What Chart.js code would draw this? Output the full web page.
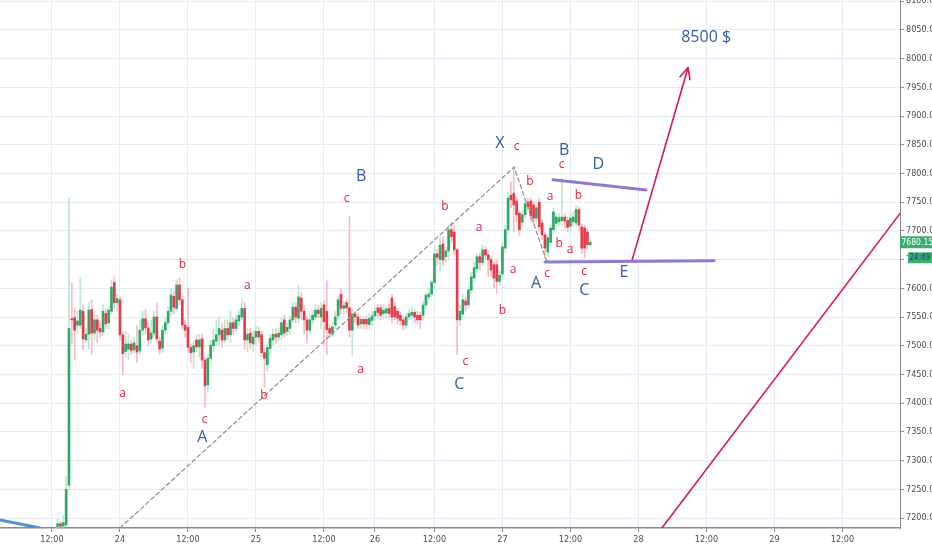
<!DOCTYPE html>
<html><head><meta charset="utf-8">
<script src="https://cdn.jsdelivr.net/npm/chart.js@4.4.0/dist/chart.umd.min.js"></script>
<style>html,body{margin:0;padding:0;background:#fff;overflow:hidden}#wrap{width:932px;height:550px;position:relative}</style>
</head><body><div id="wrap"><canvas id="c"></canvas></div>
<script>
// ---- data (30-min candles, index = bar number) ----
const candleStart = 20;
const opens = [7185,7190,7186,7188,7257,7547,7549,7536,7536,7560,7510,7520,7563,7522,7545,7530,7524,7556,7540,7560,
7610,7575,7580,7519,7490,7494,7503,7493,7500,7491,7527,7547,7531,7512,7522,7550,7508,7496,7527,7540,
7560,7586,7565,7606,7580,7536,7532,7497,7489,7510,7498,7512,7475,7432,7478,7500,7508,7519,7527,7510,
7530,7519,7540,7530,7543,7550,7565,7510,7522,7503,7515,7525,7519,7488,7467,7495,7510,7520,7515,7519,
7545,7525,7530,7545,7567,7548,7583,7560,7545,7527,7545,7550,7562,7550,7571,7560,7530,7520,7536,7552,
7590,7565,7575,7566,7527,7555,7550,7538,7546,7546,7537,7544,7552,7566,7566,7556,7557,7565,7583,7568,
7560,7553,7545,7536,7550,7553,7558,7553,7553,7553,7571,7585,7590,7610,7660,7650,7677,7655,7665,7702,
7698,7667,7545,7555,7578,7571,7597,7618,7634,7655,7645,7667,7658,7650,7641,7641,7612,7625,7670,7702,
7762,7765,7752,7731,7715,7728,7750,7752,7745,7722,7750,7714,7693,7663,7680,7702,7713,7716,7718,7724,
7718,7708,7716,7714,7737,7707,7705,7698,7676];
const highs = [7200,7194,7205,7272,7757,7610,7566,7560,7619,7571,7530,7575,7580,7560,7553,7540,7571,7565,7570,7615,
7620,7590,7585,7524,7525,7520,7510,7515,7535,7545,7560,7563,7540,7545,7560,7575,7515,7535,7548,7568,
7600,7595,7615,7618,7585,7545,7600,7503,7508,7518,7520,7520,7480,7485,7510,7530,7545,7550,7540,7545,
7545,7560,7548,7555,7562,7583,7576,7530,7530,7525,7535,7532,7525,7495,7505,7520,7530,7530,7530,7548,
7553,7540,7552,7575,7575,7605,7592,7570,7550,7555,7560,7572,7570,7575,7578,7613,7538,7540,7560,7585,
7600,7578,7580,7725,7565,7560,7556,7552,7550,7552,7556,7560,7568,7572,7572,7572,7570,7572,7590,7575,
7565,7558,7550,7556,7563,7566,7563,7560,7558,7578,7592,7600,7615,7670,7668,7690,7690,7672,7710,7715,
7710,7670,7570,7590,7585,7602,7628,7645,7660,7662,7675,7672,7666,7655,7645,7648,7630,7680,7710,7768,
7785,7808,7760,7735,7735,7755,7757,7757,7752,7747,7756,7720,7698,7693,7710,7740,7730,7730,7792,7730,
7724,7730,7734,7745,7742,7712,7710,7703,7684];
const lows = [7183,7184,7184,7185,7250,7503,7475,7520,7530,7493,7505,7495,7485,7510,7505,7515,7518,7530,7530,7555,
7565,7560,7510,7449,7480,7475,7485,7488,7470,7485,7520,7520,7500,7505,7515,7506,7485,7488,7520,7535,
7552,7555,7560,7572,7530,7515,7490,7470,7460,7490,7480,7460,7393,7420,7470,7490,7500,7500,7498,7505,
7510,7505,7520,7525,7535,7545,7495,7490,7495,7490,7500,7505,7480,7428,7455,7485,7500,7505,7508,7510,
7515,7518,7520,7540,7540,7540,7545,7520,7505,7520,7538,7545,7548,7530,7500,7485,7515,7515,7530,7545,
7555,7555,7556,7515,7484,7540,7530,7530,7530,7528,7530,7535,7545,7550,7545,7548,7548,7548,7540,7545,
7538,7536,7527,7530,7545,7547,7540,7538,7530,7545,7565,7580,7585,7600,7640,7630,7640,7645,7650,7680,
7658,7485,7535,7550,7560,7565,7590,7612,7628,7632,7640,7650,7620,7620,7600,7592,7605,7615,7664,7695,
7740,7698,7715,7692,7708,7722,7735,7718,7712,7715,7700,7685,7653,7655,7675,7695,7705,7708,7710,7705,
7698,7700,7708,7708,7700,7660,7653,7668,7672];
const closes = [7190,7186,7192,7250,7530,7545,7527,7543,7562,7512,7520,7562,7522,7545,7527,7524,7560,7538,7562,7602,
7575,7582,7519,7486,7503,7503,7492,7505,7489,7527,7547,7531,7510,7522,7550,7512,7494,7527,7540,7560,
7588,7567,7606,7580,7536,7527,7497,7488,7500,7498,7510,7475,7430,7478,7501,7510,7519,7530,7510,7530,
7519,7540,7530,7545,7553,7565,7510,7520,7505,7515,7525,7515,7488,7478,7497,7513,7520,7515,7522,7540,
7522,7532,7545,7567,7550,7585,7560,7545,7527,7545,7553,7562,7556,7565,7542,7528,7522,7533,7550,7580,
7565,7570,7566,7527,7555,7550,7536,7546,7538,7538,7548,7552,7560,7558,7553,7562,7564,7556,7550,7550,
7548,7544,7536,7550,7556,7558,7550,7545,7545,7571,7588,7590,7610,7660,7654,7675,7649,7665,7702,7690,
7667,7545,7560,7580,7571,7597,7620,7636,7655,7645,7667,7658,7650,7632,7618,7612,7623,7672,7702,7757,
7754,7745,7728,7702,7728,7747,7742,7726,7722,7740,7707,7693,7670,7688,7705,7733,7724,7723,7724,7717,
7706,7722,7724,7737,7710,7670,7670,7676,7680.15];

const xTickValues = [18,42,66,90,114,132,153,177,201,225,249,273,297];
const xTickLabels = ['12:00','24','12:00','25','12:00','26','12:00','27','12:00','28','12:00','29','12:00'];
const yMin = 7182.6, yMax = 8102, yStep = 50;
const lastPrice = 7680.15;
const countdown = '24:49';

// drawings (bar index, price)
const dashedPath = [[42,7182.6],[181.1,7811],[192.7,7646]];
const lineD = [[194.85,7789],[227.7,7771]];
const lineE = [[192.0,7646],[251.7,7648]];
const arrowPath = [[222.7,7648],[242.5,7984]];
const crimsonLine = [[233.3,7182.6],[317.3,7730]];
const blueLine = [[-0.35,7196.5],[13.8,7182.6]];

const minorLabels = [['a',42.96,7417],['b',64.0,7642],['c',71.9,7372],['a',86.95,7604],['b',92.84,7414],
['c',122.0,7757],['a',126.97,7459],['b',156.7,7743],['c',163.9,7472],['a',168.8,7706],['b',176.95,7562],
['a',180.8,7633],['c',182.0,7846],['b',186.7,7786],['c',192.8,7625],['a',193.8,7759],['c',197.9,7815],
['b',197.0,7677],['a',200.9,7667],['b',203.8,7761],['c',205.8,7629]];
const majorLabels = [['A',71.1,7341],['B',127.1,7794],['C',161.8,7433],['X',176.1,7852],['A',188.85,7609],
['B',198.8,7840],['C',205.9,7597],['D',210.8,7815],['E',219.9,7627]];
const targetLabel = ['8500 $',248.9,8036];

// ---- styles ----
const GREEN='#2ea866', RED='#e63a4a', WGREEN='#bfe5cf', WRED='#f5bcc4';
const CRIMSON='#d6185a', PURPLE='#8f7ad0', BLUE='#2d5f9e', LRED='#e3213b';
const GRID='#e3ecf5', AXIS='#8a8a8a', TXT='#4d4d4d';
const FONT_NARROW="'Liberation Sans Narrow','DejaVu Sans Condensed','Liberation Sans',sans-serif";

const bodies = opens.map((o,k)=>({x:candleStart+k, y:[o, closes[k]]}));
const wicks = lows.map((l,k)=>({x:candleStart+k, y:[l, highs[k]]}));
const pts = a => a.map(p=>({x:p[0], y:p[1]}));
const up = k => closes[k] >= opens[k];

function lineDs(data,color,width,dash){
  return {type:'line', data:pts(data), borderColor:color, borderWidth:width, borderDash:dash||[],
    pointRadius:0, fill:false, tension:0, order:0, borderCapStyle:'round'};
}

const annot = {
  id:'annot',
  afterDatasetsDraw(chart){
    const {ctx, scales:{x,y}, chartArea:ca} = chart;
    ctx.save();
    ctx.beginPath(); ctx.rect(ca.left, ca.top, ca.width, ca.height); ctx.clip();
    // arrowhead
    const x0=x.getPixelForValue(arrowPath[0][0]), y0=y.getPixelForValue(arrowPath[0][1]);
    const x1=x.getPixelForValue(arrowPath[1][0]), y1=y.getPixelForValue(arrowPath[1][1]);
    const ang=Math.atan2(y0-y1, x0-x1), L=12, sp=0.45;
    ctx.strokeStyle=CRIMSON; ctx.lineWidth=1.6; ctx.lineCap='round'; ctx.lineJoin='round';
    ctx.beginPath();
    ctx.moveTo(x1+L*Math.cos(ang+sp), y1+L*Math.sin(ang+sp));
    ctx.lineTo(x1,y1);
    ctx.lineTo(x1+L*Math.cos(ang-sp), y1+L*Math.sin(ang-sp));
    ctx.stroke();
    ctx.textAlign='center'; ctx.textBaseline='middle';
    ctx.fillStyle=LRED; ctx.font="12px 'Open Sans',sans-serif";
    minorLabels.forEach(([t,vx,vy])=>ctx.fillText(t, x.getPixelForValue(vx), y.getPixelForValue(vy)));
    ctx.fillStyle=BLUE; ctx.font="16px 'Open Sans',sans-serif";
    majorLabels.forEach(([t,vx,vy])=>ctx.fillText(t, x.getPixelForValue(vx), y.getPixelForValue(vy)));
    ctx.font="16px 'Open Sans',sans-serif";
    ctx.fillText(targetLabel[0], x.getPixelForValue(targetLabel[1]), y.getPixelForValue(targetLabel[2]));
    ctx.restore();
  },
  afterDraw(chart){
    const {ctx, scales:{y}, chartArea:ca} = chart;
    const py = y.getPixelForValue(lastPrice);
    ctx.save();
    ctx.fillStyle='#3aae70';
    ctx.fillRect(ca.right, py-6, 32, 12);
    ctx.fillRect(ca.right+8, py+10, 24, 11);
    ctx.textBaseline='middle'; ctx.textAlign='left';
    ctx.font="8.5px "+FONT_NARROW;
    ctx.fillStyle='#ffffff';
    ctx.fillText(lastPrice.toFixed(2), ca.right+1.5, py+0.5);
    ctx.font="8px "+FONT_NARROW;
    ctx.fillStyle='#173f7a';
    ctx.fillText(countdown, ca.right+9.5, py+16);
    ctx.restore();
  }
};

new Chart(document.getElementById('c'), {
  type:'bar',
  data:{datasets:[
    lineDs(dashedPath,'#8c8c8c',1.2,[4,3]),
    lineDs(lineD,PURPLE,3),
    lineDs(lineE,PURPLE,3),
    lineDs(arrowPath,CRIMSON,1.6),
    lineDs(crimsonLine,CRIMSON,1.6),
    lineDs(blueLine,'#5b8ecf',3),
    {type:'bar', data:bodies, grouped:false, barThickness:2, minBarLength:1, order:1, borderWidth:0,
      backgroundColor: c=>up(c.dataIndex)?GREEN:RED},
    {type:'bar', data:wicks, grouped:false, barThickness:1, order:2, borderWidth:0,
      backgroundColor: c=>up(c.dataIndex)?WGREEN:WRED}
  ]},
  options:{
    responsive:true, maintainAspectRatio:false, animation:false, events:[],
    layout:{padding:0},
    plugins:{legend:{display:false}, tooltip:{enabled:false}},
    scales:{
      x:{type:'linear', min:-0.35, max:317.33, offset:false,
        grid:{color:GRID, offset:false, tickLength:4, tickColor:AXIS},
        border:{color:AXIS, width:1.5},
        afterBuildTicks: s=>{ s.ticks = xTickValues.map(v=>({value:v})); },
        afterFit: s=>{ s.height=22; s.paddingLeft=0; s.paddingRight=0; },
        ticks:{autoSkip:false, maxRotation:0, color:TXT, padding:2,
          font:{size:9, family:FONT_NARROW},
          callback:(v,i)=>xTickLabels[i]}
      },
      y:{type:'linear', position:'right', min:yMin, max:yMax,
        grid:{color:GRID, tickLength:4, tickColor:AXIS},
        border:{color:AXIS, width:1},
        afterFit: s=>{ s.width=32; s.paddingTop=0; s.paddingBottom=0; },
        ticks:{stepSize:yStep, includeBounds:false, color:TXT, padding:2,
          font:{size:9, family:FONT_NARROW},
          callback:v=>v.toFixed(2)}
      }
    }
  },
  plugins:[annot]
});
</script></body></html>
